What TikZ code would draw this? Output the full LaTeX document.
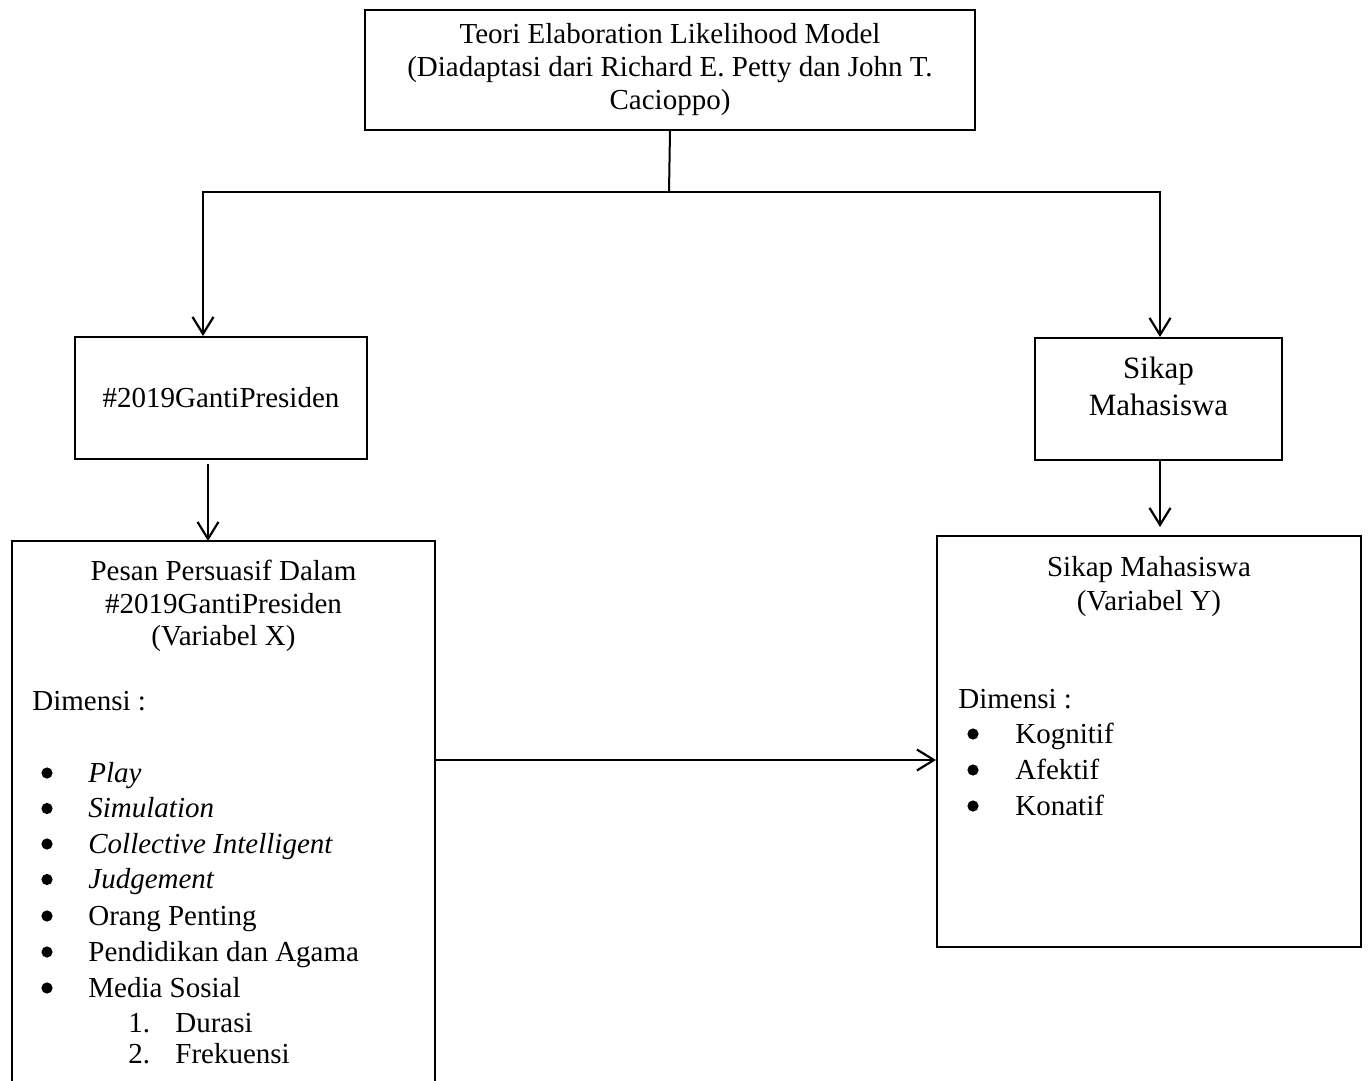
\documentclass[tikz,border=0pt]{standalone}
\usepackage{fontspec}
\setmainfont{Liberation Serif}
\usetikzlibrary{arrows.meta}
\tikzset{
  x=0.5pt, y=-0.5pt,
  boxstyle/.style={draw, line width=1pt, inner sep=0pt},
  conn/.style={line width=1pt},
  arr/.style={line width=1pt, -{Straight Barb[length=8.5pt,width=10.5pt,line width=1.1pt]}},
  txt/.style={inner sep=0pt, font=\fontsize{14.5}{16.5}\selectfont},
  ctxt/.style={txt, anchor=base},
  ltxt/.style={txt, anchor=base west},
  bul/.style={circle, fill, inner sep=0pt, minimum size=5.6pt}
}
\begin{document}
\begin{tikzpicture}
\useasboundingbox (0,0) rectangle (1370,1081);
\fill[white] (0,0) rectangle (1370,1081);

% top box
\node[boxstyle, minimum width=305pt, minimum height=60pt, align=center,
  font=\fontsize{14.5}{16.5}\selectfont] (top) at (670,70)
  {Teori Elaboration Likelihood Model\\(Diadaptasi dari Richard E. Petty dan John T.\\Cacioppo)};

% hashtag box
\node[boxstyle, minimum width=146pt, minimum height=61pt,
  font=\fontsize{14.5}{16.5}\selectfont] (hash) at (221,398) {\#2019GantiPresiden};

% sikap box
\node[boxstyle, minimum width=123.5pt, minimum height=61pt] (sikap) at (1158.5,399) {};
\node[txt, align=center, font=\fontsize{15.5}{18.5}\selectfont] (sikaptxt) at (1158.5,386) {Sikap\\Mahasiswa};

% left big box (open at the bottom)
\coordinate (xtl) at (12,541);
\coordinate (xtr) at (435,541);
\coordinate (xbl) at (12,1081);
\coordinate (xbr) at (435,1081);
\draw[conn] (xbl) -- (xtl) -- (xtr) -- (xbr);

% right big box
\node[boxstyle, minimum width=212pt, minimum height=205.5pt] (ybox) at (1149,741.5) {};

% left box text
\node[ctxt] (x1) at (223.5,580) {Pesan Persuasif Dalam};
\node[ctxt] (x2) at (223.5,613) {\#2019GantiPresiden};
\node[ctxt] (x3) at (223.5,645.5) {(Variabel X)};
\node[ltxt] (xdim) at (32,710) {Dimensi :};
\foreach \y/\t/\n in {782/{\textit{Play}}/a, 817.5/{\textit{Simulation}}/b, 853/{\textit{Collective Intelligent}}/c, 888.5/{\textit{Judgement}}/d, 925/{Orang Penting}/e, 961/{Pendidikan dan Agama}/f, 997/{Media Sosial}/g}{
  \node[bul] (xb\n) at (47,\y-9) {};
  \node[ltxt] (xi\n) at (88,\y) {\t};
}
\node[ltxt] (xn1) at (128,1032) {1.};
\node[ltxt] (xd1) at (175,1032) {Durasi};
\node[ltxt] (xn2) at (128,1063) {2.};
\node[ltxt] (xd2) at (175,1063) {Frekuensi};

% right box text
\node[ctxt] (y1) at (1149,576) {Sikap Mahasiswa};
\node[ctxt] (y2) at (1149,610) {(Variabel Y)};
\node[ltxt] (ydim) at (958,708) {Dimensi :};
\foreach \y/\t/\n in {743/Kognitif/a, 779/Afektif/b, 815/Konatif/c}{
  \node[bul] (yb\n) at (973,\y-9) {};
  \node[ltxt] (yi\n) at (1015,\y) {\t};
}

% connectors
\coordinate (j) at (669,192);
\coordinate (jl) at (203,192);
\coordinate (jr) at (1160,192);
\draw[conn] (top.south) -- (j);
\draw[arr] (j) -- (jl) -- (jl |- hash.north);
\draw[arr] (j) -- (jr) -- (jr |- sikap.north);

\coordinate (a1) at (208,464);
\draw[arr] (a1) -- (a1 |- xtl);

\coordinate (a2) at (1160,460);
\draw[arr, shorten >=4pt] (a2) -- (a2 |- ybox.north);

\coordinate (a3) at (435,760);
\draw[arr] (a3) -- (a3 -| ybox.west);
\end{tikzpicture}
\end{document}
